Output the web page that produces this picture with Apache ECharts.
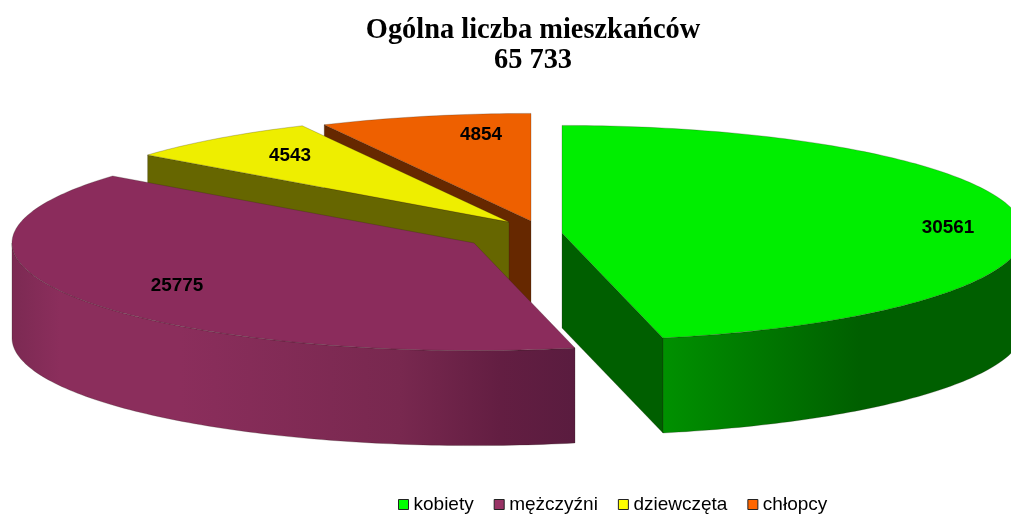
<!DOCTYPE html>
<html><head><meta charset="utf-8">
<style>html,body{margin:0;padding:0;background:#fff}#c{width:1011px;height:514px}</style>
<script src="https://cdn.jsdelivr.net/npm/echarts@6/dist/echarts.min.js"></script>
</head><body><div id="c"></div>
<script>
const categories = ['kobiety', 'mężczyźni', 'dziewczęta', 'chłopcy'];
const values = [30561, 25775, 4543, 4854];
const titleLines = ['Ogólna liczba mieszkańców', '65 733'];

const topColors = ['#00EE00', '#8B2C5C', '#EEEE00', '#EE6000'];
const faceColors = ['#005F00', '#5A1C3F', '#666600', '#662800'];
const legendColors = ['#00FF00', '#993366', '#FFFF00', '#FF6600'];
const apexes = [[562, 233], [474, 243], [509, 222], [531, 221]];
const labelOffsets = [[386, -5], [-297, 43], [-219, -66], [-50, -86]];
const wallStops = [
  [[664, '#009000'], [860, '#005F00'], [1011, '#005F00']],
  [[13, '#7C2A53'], [60, '#8B2E5C'], [180, '#8B2E5C'], [400, '#78284F'], [500, '#631E42'], [575, '#5A1C3F']],
  null, null
];
const RX = 462, RY = 107.6, DEPTH = 95, edge = 'rgba(40,30,20,0.4)';

const total = values.reduce((a, b) => a + b, 0);
const rad = d => d * Math.PI / 180;
const starts = values.map((_, i) => values.slice(0, i).reduce((a, b) => a + b, 0) / total * 360);

function rim(c, deg) {
  return [c[0] + RX * Math.sin(rad(deg)), c[1] - RY * Math.cos(rad(deg))];
}
function arc(c, from, to) {
  const pts = [], n = Math.max(2, Math.ceil(Math.abs(to - from)));
  for (let k = 0; k <= n; k++) pts.push(rim(c, from + (to - from) * k / n));
  return pts;
}
const down = p => [p[0], p[1] + DEPTH];
function poly(points, fill, z2) {
  return { type: 'polygon', z2, shape: { points }, style: { fill, stroke: edge, lineWidth: 0.6 } };
}
function wallFill(i, col) {
  const st = wallStops[i];
  if (!st) return col;
  const x0 = st[0][0], x1 = st[st.length - 1][0];
  return new echarts.graphic.LinearGradient(x0, 0, x1, 0,
    st.map(s => ({ offset: (s[0] - x0) / (x1 - x0), color: s[1] })), true);
}

function renderSlice(i) {
  return function (params, api) {
    const v = api.value(0), c = apexes[i];
    const s = starts[i], e = s + v / total * 360;
    const kids = [];
    const radial = deg => {
      const p = rim(c, deg);
      kids.push(poly([c, p, down(p), down(c)], faceColors[i], 1));
    };
    if (Math.sin(rad(s)) < -1e-6) radial(s);
    if (Math.sin(rad(e)) > 1e-6) radial(e);
    const a0 = Math.max(s, 90), a1 = Math.min(e, 270);
    if (a1 > a0) {
      const top = arc(c, a0, a1);
      kids.push(poly(top.concat(top.slice().reverse().map(down)), wallFill(i, faceColors[i]), 2));
    }
    kids.push(poly([c].concat(arc(c, s, e)), topColors[i], 3));
    kids.push({
      type: 'text', z2: 4,
      x: c[0] + labelOffsets[i][0], y: c[1] + labelOffsets[i][1], scaleX: 1.08,
      style: {
        text: String(v), x: 0, y: 0,
        align: 'center', verticalAlign: 'middle', fill: '#000',
        font: 'bold 17.5px "Liberation Sans", Arial, sans-serif'
      }
    });
    return { type: 'group', children: kids };
  };
}

// painted back to front: the small slices lie behind the big ones
const paintOrder = [3, 2, 1, 0];
const chart = echarts.init(document.getElementById('c'), null, { renderer: 'canvas' });
chart.setOption({
  animation: false,
  backgroundColor: '#fff',
  title: {
    text: titleLines.join('\n'), left: 528, top: 11, textAlign: 'center',
    textStyle: { fontFamily: '"Liberation Serif", serif', fontWeight: 'bold', fontSize: 28.4, lineHeight: 30, color: '#000' }
  },
  legend: {
    left: 398, top: 495, padding: 0, itemWidth: 10, itemHeight: 10, itemGap: 20, selectedMode: false,
    textStyle: { fontFamily: '"Liberation Sans", Arial, sans-serif', fontSize: 19, color: '#000' },
    data: categories.map((name, i) => ({
      name, icon: 'rect',
      itemStyle: { color: legendColors[i], borderColor: '#222', borderWidth: 1 }
    }))
  },
  series: paintOrder.map((i, order) => ({
    type: 'custom', name: categories[i], coordinateSystem: 'none', z: 2 + order, silent: true,
    itemStyle: { color: legendColors[i] },
    data: [[values[i]]],
    renderItem: renderSlice(i)
  }))
});
</script></body></html>
